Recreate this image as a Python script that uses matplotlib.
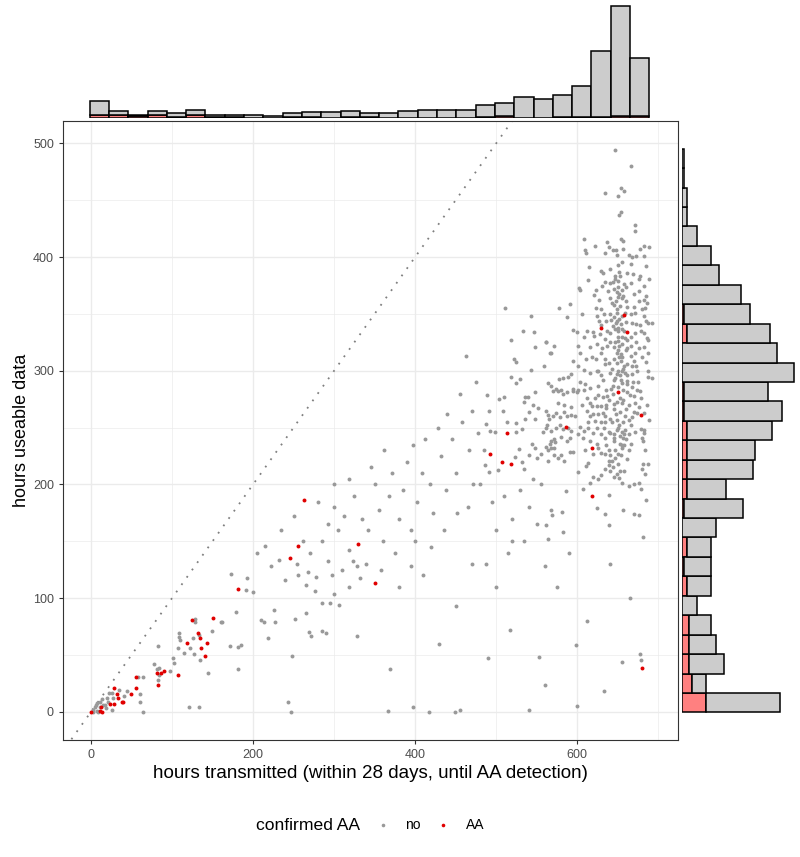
import matplotlib.pyplot as plt
from matplotlib.lines import Line2D
import numpy as np

plt.rcParams['font.family'] = ['Liberation Sans', 'DejaVu Sans']

# --- scatter data (hours transmitted, hours useable) ---
aa_pts = [(0, 0), (11, 1), (14, 0), (13, 4), (24, 7), (28, 7), (29, 21), (32, 16), (33, 12), (38, 9),
          (40, 9), (50, 16), (56, 21), (55, 31), (83, 24), (82, 34), (86, 34), (90, 36), (108, 32),
          (119, 61), (125, 81), (132, 69), (135, 65), (136, 56), (141, 49), (143, 61), (151, 83),
          (181, 108), (246, 135), (263, 186), (256, 146), (329, 148), (351, 113), (493, 227),
          (507, 220), (518, 218), (513, 245), (586, 251), (618, 232), (618, 190), (650, 281),
          (679, 261), (658, 349), (630, 338), (662, 334), (680, 39)]

no_low = [(232, 134), (254, 130), (292, 133), (324, 133), (328, 128), (173, 121), (192, 118), (191, 107),
          (200, 105), (240, 116), (256, 120), (268, 123), (278, 119), (265, 112), (276, 106), (300, 104),
          (285, 96), (295, 96), (306, 94), (319, 110), (226, 90), (210, 81), (213, 79), (227, 79),
          (252, 82), (266, 87), (269, 70), (271, 67), (285, 71), (290, 69), (328, 67), (218, 65),
          (248, 49), (243, 9), (247, 0), (179, 88), (160, 79), (150, 71), (109, 69), (109, 66),
          (110, 63), (108, 56), (115, 52), (126, 65), (122, 56), (127, 51), (133, 68), (134, 46),
          (144, 34), (128, 82), (128, 79), (162, 79), (172, 58), (181, 57), (185, 59), (181, 38),
          (83, 58), (78, 42), (81, 38), (84, 39), (84, 32), (83, 28), (101, 47), (103, 43), (98, 36),
          (64, 31), (58, 31), (45, 18), (41, 14), (35, 19), (26, 17), (22, 17), (27, 12), (21, 9),
          (26, 2), (17, 6), (11, 9), (15, 6), (5, 4), (7, 1), (11, 4), (9, 0), (60, 16), (60, 9),
          (64, 0), (121, 4), (133, 4), (3, 2), (6, 6), (18, 3), (20, 12), (8, 8), (14, 11), (2, 0)]

no_mid = [(205, 140), (215, 146), (222, 128), (235, 160), (250, 172), (262, 150), (270, 140),
          (285, 150), (292, 165), (300, 180), (305, 160), (312, 172), (318, 142), (325, 190),
          (335, 170), (342, 160), (350, 200), (355, 178), (360, 150), (368, 190), (372, 210),
          (380, 170), (385, 195), (390, 220), (395, 160), (398, 235), (402, 185), (408, 210),
          (412, 240), (418, 200), (422, 175), (428, 250), (432, 225), (438, 195), (440, 262),
          (445, 240), (450, 210), (455, 280), (458, 255), (463, 313), (466, 230), (470, 265),
          (472, 200), (475, 290), (478, 245), (340, 130), (332, 118), (310, 125), (298, 120),
          (358, 125), (375, 140), (400, 150), (420, 145), (436, 160), (452, 175), (465, 180),
          (380, 110), (395, 128), (280, 185), (300, 200), (318, 205), (345, 215), (362, 230)]

no_right_low = [(367, 1), (369, 38), (398, 4), (417, 0), (449, 0), (455, 2), (450, 93), (487, 130),
                (490, 47), (517, 72), (553, 48), (560, 24), (599, 59), (655, 44), (678, 51), (679, 46),
                (540, 2), (600, 5), (633, 18), (612, 80), (575, 110), (640, 130), (665, 100),
                (520, 150), (590, 140), (500, 110), (430, 60), (470, 130), (410, 120), (560, 128)]

no_mid_right = [(511, 355), (543, 348), (533, 335), (547, 334), (519, 327), (548, 321), (562, 325),
                (522, 310), (525, 308), (568, 316), (543, 301), (559, 304), (519, 295), (530, 293),
                (525, 289), (489, 279), (510, 277), (504, 275), (536, 277), (539, 277), (548, 281),
                (534, 273), (545, 270), (491, 265), (509, 265), (513, 255), (492, 247), (499, 246),
                (487, 253), (525, 254), (525, 246), (532, 249), (536, 258), (540, 264), (548, 258),
                (552, 267), (563, 252), (558, 246), (562, 233), (567, 236), (571, 232), (573, 237),
                (544, 236), (548, 232), (556, 227), (550, 223), (540, 226), (528, 231), (523, 224),
                (532, 220), (535, 214), (502, 213), (491, 211), (486, 217), (545, 205), (555, 200),
                (530, 195), (510, 190), (495, 185), (540, 180), (520, 170), (500, 160), (550, 165),
                (515, 140), (535, 150), (480, 200), (485, 230)]

no_dense_up = [(647, 494), (666, 480), (634, 456), (654, 461), (658, 458), (651, 454), (654, 440),
               (652, 437), (671, 428), (671, 423), (609, 416), (637, 413), (639, 409), (635, 404),
               (610, 406), (611, 404), (622, 410), (654, 416), (657, 414), (644, 406), (648, 406),
               (657, 407), (677, 407), (682, 410), (689, 409), (664, 402), (668, 400), (673, 401),
               (682, 401), (649, 402), (656, 396), (666, 394), (685, 392), (615, 391), (630, 388),
               (632, 386), (640, 390), (650, 393), (652, 387), (647, 383), (653, 383), (669, 385),
               (678, 383), (676, 381), (689, 381), (614, 380), (635, 378), (640, 377), (647, 381),
               (650, 379), (658, 376), (660, 374), (666, 377), (683, 375), (602, 373), (603, 371),
               (631, 375), (638, 370), (621, 367), (623, 371), (646, 372), (649, 369), (652, 368),
               (655, 371), (670, 368), (676, 370), (685, 366), (640, 364), (648, 361), (655, 364),
               (660, 361), (676, 361), (682, 362), (686, 360), (578, 355), (591, 359), (623, 355),
               (630, 354), (645, 358), (649, 354), (661, 356), (606, 350), (624, 348), (641, 350),
               (649, 351), (656, 348), (672, 351), (680, 354), (683, 348), (588, 347), (627, 344),
               (630, 340), (642, 345), (649, 344), (654, 341), (668, 342), (673, 341), (685, 344),
               (687, 342), (692, 342), (595, 336), (600, 334), (612, 335), (619, 334), (621, 331),
               (637, 335), (641, 333), (647, 337), (651, 335), (656, 337), (658, 335), (671, 333),
               (679, 335), (683, 333), (686, 329), (688, 327), (572, 322), (567, 316), (562, 325),
               (601, 322), (603, 316), (616, 321), (624, 324), (629, 316), (634, 328), (637, 322),
               (641, 325), (647, 325), (651, 326), (652, 322), (655, 324), (651, 318), (654, 315),
               (659, 329), (662, 320), (666, 322), (673, 325), (676, 320), (682, 321), (687, 316),
               (595, 309), (601, 304), (608, 301), (618, 312), (623, 310), (635, 310), (639, 307),
               (645, 310), (649, 307), (654, 309), (658, 304), (666, 313), (670, 309), (673, 304),
               (680, 312), (685, 308), (616, 298), (624, 300), (630, 296), (641, 298), (649, 297),
               (655, 300), (662, 296), (668, 297), (674, 300), (687, 295), (692, 294), (578, 293),
               (582, 294), (589, 295), (592, 297), (564, 289), (568, 287), (574, 284), (580, 283),
               (595, 284), (600, 281), (610, 288), (616, 285), (626, 287), (636, 283), (644, 287),
               (655, 289), (662, 291), (668, 286), (674, 283), (650, 330), (652, 312), (657, 302),
               (645, 292), (660, 318), (653, 296), (648, 342), (650, 365), (662, 386)]

no_dense_low = [(570, 282), (576, 282), (583, 280), (587, 281), (595, 282), (601, 283), (608, 283),
                (612, 276), (616, 272), (618, 269), (626, 279), (632, 277), (637, 278), (639, 274),
                (645, 271), (649, 273), (653, 276), (655, 272), (657, 274), (662, 281), (665, 279),
                (670, 278), (677, 282), (679, 276), (625, 269), (629, 269), (636, 267), (632, 263),
                (634, 260), (576, 272), (584, 270), (592, 268), (584, 264), (574, 263), (562, 265),
                (564, 261), (565, 258), (570, 260), (579, 259), (587, 260), (593, 261), (612, 265),
                (616, 260), (614, 255), (622, 256), (629, 255), (635, 255), (641, 258), (649, 257),
                (657, 255), (664, 257), (668, 259), (670, 264), (674, 263), (682, 263), (676, 268),
                (562, 250), (568, 247), (574, 250), (579, 252), (582, 249), (589, 250), (593, 247),
                (603, 251), (608, 247), (614, 250), (620, 245), (625, 250), (629, 244), (635, 241),
                (639, 246), (641, 245), (645, 241), (649, 248), (653, 243), (655, 246), (659, 248),
                (657, 241), (664, 244), (679, 249), (682, 245), (680, 241), (683, 248), (681, 238),
                (568, 238), (572, 240), (580, 242), (591, 241), (587, 238), (601, 244), (607, 241),
                (616, 238), (624, 236), (626, 232), (620, 227), (629, 228), (635, 227), (639, 230),
                (641, 226), (643, 221), (639, 221), (647, 223), (651, 227), (655, 232), (658, 235),
                (664, 230), (655, 235), (564, 230), (568, 232), (576, 223), (571, 226), (580, 226),
                (584, 221), (591, 229), (595, 229), (564, 221), (614, 219), (611, 216), (601, 211),
                (620, 207), (626, 205), (629, 208), (635, 214), (639, 217), (641, 212), (645, 207),
                (649, 209), (653, 212), (681, 218), (680, 214), (684, 209), (688, 218), (607, 196),
                (616, 201), (639, 191), (655, 201), (664, 199), (670, 200), (676, 201), (679, 196),
                (685, 186), (586, 194), (624, 179), (635, 174), (657, 178), (670, 174), (676, 173),
                (639, 164), (681, 154), (568, 178), (569, 173), (581, 176), (562, 164), (583, 158),
                (564, 152), (648, 262), (652, 252), (646, 238), (650, 218), (660, 266), (644, 280)]

no_dense_core = [(644, 378), (651, 374), (657, 366), (643, 360), (653, 357), (659, 351), (646, 347),
                 (652, 346), (660, 343), (644, 339), (650, 338), (655, 330), (661, 327), (645, 321),
                 (649, 316), (656, 312), (662, 306), (643, 302), (651, 300), (659, 298), (647, 294),
                 (654, 292), (661, 288), (642, 284), (650, 286), (657, 283), (664, 270), (645, 266),
                 (653, 264), (659, 260), (643, 255), (651, 250), (658, 244), (646, 244), (653, 236),
                 (660, 240), (647, 230), (654, 226), (661, 222), (644, 215), (652, 206), (658, 212),
                 (666, 350), (670, 356), (667, 330), (671, 316), (668, 304), (669, 290), (672, 272),
                 (666, 252), (671, 246), (667, 236), (633, 350), (636, 344), (631, 320), (634, 306),
                 (632, 292), (636, 270), (633, 250), (636, 235), (627, 362), (628, 332), (626, 300),
                 (622, 276), (626, 262), (620, 262), (608, 330), (611, 310), (606, 270), (610, 230),
                 (604, 290), (597, 260), (675, 290), (677, 340), (684, 355), (688, 300), (686, 270),
                 (689, 257), (684, 230)]

# --- marginal histogram counts ---
x_bin_start, x_bin_width = -1.6, 23.82
top_total = [20, 8, 4, 8, 6, 10, 3, 4, 4, 2, 6, 7, 7, 8, 6, 6, 8, 9, 9, 10, 15, 18, 25, 23, 27, 38, 79, 133, 71]
top_aa = [4, 4, 2, 3, 1, 3, 1, 1, 0, 0, 1, 1, 0, 1, 1, 0, 0, 0, 0, 0, 1, 2, 0, 0, 1, 1, 1, 2, 2]

y_bin_start, y_bin_width = -0.5, 17.1
right_total = [40, 10, 17, 14, 12, 6, 12, 12, 12, 14, 25, 18, 29, 30, 37, 41, 35, 46, 39, 36, 28, 24,
               15, 12, 6, 2, 2, 1, 1]
right_aa = [10, 4, 3, 3, 3, 0, 2, 1, 2, 0, 1, 2, 2, 2, 2, 1, 1, 0, 0, 2, 1, 0, 0, 0, 0, 0, 0, 0, 0]

no_pts = np.array(no_low + no_mid + no_right_low + no_mid_right + no_dense_up + no_dense_low
                  + no_dense_core, dtype=float)
aa_arr = np.array(aa_pts, dtype=float)

W, H = 800, 857
fig = plt.figure(figsize=(W / 100, H / 100), dpi=100)

def rect(l, t, r, b):
    return [l / W, 1 - b / H, (r - l) / W, (b - t) / H]

grey_pt = '#999999'
red_pt = '#E00000'
bar_grey = '#CCCCCC'
bar_red = '#FF8080'

ax = fig.add_axes(rect(63, 121, 678, 740))
ax.set_xlim(-34.5, 724.5)
ax.set_ylim(-24.75, 519.75)
ax.plot([-50, 800], [-50, 800], linestyle=(0, (1, 4)), color='#7F7F7F', lw=1.3, zorder=1)
ax.scatter(no_pts[:, 0], no_pts[:, 1], s=8, color=grey_pt, linewidths=0, zorder=2)
ax.scatter(aa_arr[:, 0], aa_arr[:, 1], s=8, color=red_pt, linewidths=0, zorder=3)

ax.set_xticks([0, 200, 400, 600])
ax.set_xticks([100, 300, 500, 700], minor=True)
ax.set_yticks([0, 100, 200, 300, 400, 500])
ax.set_yticks([50, 150, 250, 350, 450], minor=True)
ax.grid(True, which='major', color='#EBEBEB', lw=1.0)
ax.grid(True, which='minor', color='#EBEBEB', lw=0.5)
ax.set_axisbelow(True)
for s in ax.spines.values():
    s.set_color('#333333')
    s.set_linewidth(0.8)
ax.tick_params(which='major', length=3, width=0.8, color='#333333', labelsize=9, labelcolor='#4D4D4D')
ax.tick_params(which='minor', length=0)
ax.set_xlabel('hours transmitted (within 28 days, until AA detection)', fontsize=13.5, labelpad=3)
ax.set_ylabel('hours useable data', fontsize=13, labelpad=2)

# top marginal histogram (stacked: AA below, no on top)
axt = fig.add_axes(rect(63, 0, 678, 118))
axt.set_xlim(ax.get_xlim())
top_total = np.array(top_total)
top_aa = np.array(top_aa)
xc = x_bin_start + x_bin_width * (np.arange(len(top_total)) + 0.5)
axt.bar(xc, top_aa, width=x_bin_width, color=bar_red, edgecolor='black', lw=1.1)
axt.bar(xc, top_total - top_aa, bottom=top_aa, width=x_bin_width, color=bar_grey, edgecolor='black', lw=1.1)
axt.set_ylim(0, top_total.max() * 1.052)
axt.axis('off')

# right marginal histogram
axr = fig.add_axes(rect(682, 121, 800, 740))
axr.set_ylim(ax.get_ylim())
right_total = np.array(right_total)
right_aa = np.array(right_aa)
yc = y_bin_start + y_bin_width * (np.arange(len(right_total)) + 0.5)
axr.barh(yc, right_aa, height=y_bin_width, color=bar_red, edgecolor='black', lw=1.1)
axr.barh(yc, right_total - right_aa, left=right_aa, height=y_bin_width, color=bar_grey, edgecolor='black', lw=1.1)
axr.set_xlim(0, right_total.max() * 1.05)
axr.axis('off')

# legend
ly = 1 - 825 / H
fig.text(256 / W, ly, 'confirmed AA', fontsize=12.6, va='center', ha='left')
fig.add_artist(Line2D([383 / W], [ly], marker='o', ms=2.6, color=grey_pt, mew=0, transform=fig.transFigure))
fig.text(405 / W, ly, 'no', fontsize=10, va='center', ha='left')
fig.add_artist(Line2D([443 / W], [ly], marker='o', ms=2.6, color=red_pt, mew=0, transform=fig.transFigure))
fig.text(466 / W, ly, 'AA', fontsize=10, va='center', ha='left')

fig.savefig('out.png', dpi=100)
